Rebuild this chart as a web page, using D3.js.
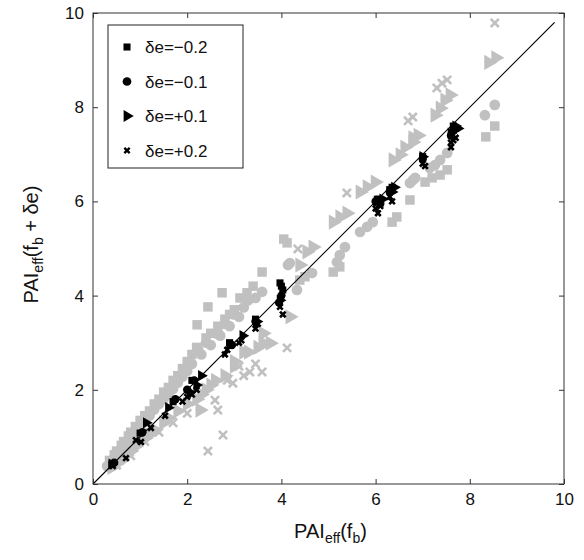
<!DOCTYPE html>
<html>
<head>
<meta charset="utf-8">
<script src="https://cdn.jsdelivr.net/npm/d3@7"></script>
<style>
  body { margin: 0; background: #fff; }
  text { font-family: "Liberation Sans", Arial, sans-serif; }
</style>
</head>
<body>
<svg width="584" height="560"></svg>
<script>
// data, [PAIeff(fb), PAIeff(fb + de)]
var xTicks = [0, 2, 4, 6, 8, 10];
var yTicks = [0, 2, 4, 6, 8, 10];
var legendLabels = ['\u03B4e=\u22120.2', '\u03B4e=\u22120.1', '\u03B4e=+0.1', '\u03B4e=+0.2'];
var lineEnd = 9.8;

// grey sets
var greySquares = [[0.35,0.5],[0.45,0.62],[0.5,0.7],[0.6,0.82],[0.65,0.9],[0.75,1.02],[0.8,1.1],[0.9,1.22],
  [1.0,1.35],[1.1,1.45],[1.2,1.55],[1.3,1.7],[1.4,1.8],[1.5,1.95],[1.6,2.05],[1.7,2.2],[1.8,2.3],[1.9,2.45],
  [2.0,2.6],[2.1,2.75],[2.2,2.9],[2.21,3.38],[2.44,3.76],[2.74,4.06],[2.4,3.1],[2.5,3.2],[2.65,3.35],
  [2.8,3.5],[2.9,3.6],[3.0,3.7],[3.12,3.95],[3.27,4.06],[3.4,4.2],[3.59,4.5],[4.12,5.12],[4.05,5.2],
  [4.39,4.33],[4.5,4.4],[5.1,4.5],[5.24,4.61],[6.35,5.56],[6.45,5.67],[6.73,6.03],[7.05,6.41],[7.2,6.5],
  [7.37,6.56],[7.52,6.67],[8.34,7.37],[8.53,7.6]];
var greyCircles = [[0.3,0.38],[0.4,0.5],[0.5,0.62],[0.6,0.75],[0.7,0.88],[0.8,1.0],[0.9,1.12],[1.0,1.25],
  [1.1,1.35],[1.2,1.45],[1.3,1.58],[1.4,1.7],[1.5,1.8],[1.6,1.9],[1.7,2.02],[1.8,2.15],[1.9,2.28],[2.0,2.4],
  [2.1,2.55],[2.23,2.85],[2.3,2.75],[2.4,3.0],[2.5,2.95],[2.6,3.2],[2.7,3.15],[2.8,3.4],[2.9,3.35],
  [3.0,3.6],[3.1,3.55],[3.3,3.9],[3.2,3.75],[3.45,3.95],[3.59,4.08],[4.14,4.65],[4.18,4.69],
  [4.33,4.12],[4.65,4.48],[5.18,4.71],[5.24,4.86],[5.35,5.03],[5.67,5.35],[5.82,5.46],[5.94,5.56],
  [6.73,6.39],[6.84,6.5],[6.79,6.45],[7.15,6.71],[7.26,6.77],[7.37,6.88],[7.52,7.03],[8.32,7.83],[8.53,8.05]];
var greyTriangles = [[0.4,0.35],[0.5,0.43],[0.6,0.5],[0.7,0.6],[0.8,0.7],[0.9,0.8],[1.0,0.9],[1.1,0.97],
  [1.2,1.05],[1.3,1.15],[1.5,1.3],[1.6,1.4],[1.8,1.55],[2.0,1.7],[2.2,1.8],[2.27,1.57],[2.3,1.9],
  [2.4,2.0],[2.5,2.1],[2.6,2.2],[2.8,2.3],[3.0,2.5],[3.0,2.6],[3.2,2.8],[3.3,2.8],[3.5,2.9],[3.61,2.99],
  [3.61,3.2],[3.76,2.99],[4.18,3.55],[4.39,4.65],[4.54,4.93],[4.67,5.03],[5.1,5.56],[5.24,5.67],[5.39,5.75],
  [5.67,6.2],[5.82,6.31],[5.99,6.41],[6.37,6.88],[6.52,6.99],[6.62,7.15],[6.79,7.26],[6.79,7.35],[6.9,7.4],
  [7.26,7.83],[7.37,7.98],[7.47,8.15],[7.58,8.26],[8.4,8.95],[8.55,9.05]];
var greyCrosses = [[0.5,0.4],[0.8,0.6],[1.1,0.9],[1.4,1.1],[1.7,1.3],[2.0,1.5],[2.44,0.7],[2.76,1.04],
  [2.65,1.57],[2.59,1.78],[2.97,2.14],[2.85,2.2],[3.1,2.5],[3.2,2.3],[3.33,2.38],[3.59,2.38],[3.45,2.55],
  [4.12,2.89],[4.35,4.99],[5.39,6.18],[6.69,7.71],[6.79,7.79],[7.3,8.41],[7.41,8.51],[7.52,8.58],[8.53,9.79]];

// black sets
var blackSquares = [[0.4,0.42],[1.0,1.08],[1.7,1.75],[2.1,2.2],[2.9,3.0],[3.45,3.5],[3.97,4.27],[4.0,4.2],
  [4.03,4.12],[6.05,6.05],[6.3,6.25],[6.35,6.3],[7.0,6.95],[7.65,7.6],[7.7,7.55]];
var blackCircles = [[0.45,0.45],[1.05,1.1],[1.75,1.8],[2.15,2.2],[2.0,2.0],[2.95,2.95],[3.45,3.45],
  [4.0,4.0],[3.95,3.85],[6.0,6.0],[6.1,5.95],[6.3,6.2],[7.0,6.9],[7.65,7.5],[7.6,7.4]];
var blackTriangles = [[0.4,0.42],[1.13,1.3],[1.6,1.62],[2.06,1.95],[2.2,2.1],[2.3,2.3],[2.9,2.95],
  [3.18,3.15],[3.48,3.45],[3.97,3.9],[6.03,6.0],[6.15,6.05],[6.35,6.2],[6.4,6.3],[7.0,6.95],[7.7,7.6],
  [7.6,7.45],[7.75,7.55]];
var blackCrosses = [[0.42,0.38],[0.7,0.55],[0.91,0.93],[1.02,0.89],[1.23,1.19],[1.53,1.45],[1.9,1.75],
  [2.0,1.85],[2.2,2.0],[2.1,1.9],[2.8,2.75],[2.85,2.85],[3.1,3.0],[3.15,3.05],[3.45,3.3],[3.5,3.4],
  [3.97,3.76],[4.03,3.6],[6.0,5.85],[6.05,5.75],[6.1,5.9],[6.3,6.1],[6.35,6.0],[7.0,6.8],[7.05,6.75],
  [7.6,7.25],[7.65,7.3],[7.6,7.15],[7.7,7.35]];

var margin = {left: 93, top: 13, right: 20, bottom: 76};
var svg = d3.select('svg');
var W = 584 - margin.left - margin.right;
var H = 560 - margin.top - margin.bottom;
var grey = '#c0c0c0';

var x = d3.scaleLinear().domain([0, 10]).range([0, W]);
var y = d3.scaleLinear().domain([0, 10]).range([H, 0]);

var g = svg.append('g').attr('transform', 'translate(' + margin.left + ',' + margin.top + ')');

var shapes = {
  square: function(s) { return d3.symbol().type(d3.symbolSquare).size(s)(); },
  circle: function(s) { return d3.symbol().type(d3.symbolCircle).size(s)(); },
  tri: function(s) { return d3.symbol().type(d3.symbolTriangle).size(s)(); },
  cross: function(s) { return d3.symbol().type(d3.symbolX).size(s)(); }
};

function drawSet(data, kind, size, color) {
  var isCross = kind == 'cross';
  g.append('g').selectAll('path')
    .data(data)
    .enter().append('path')
    .attr('d', shapes[kind](size))
    .attr('transform', function(d) {
      return 'translate(' + x(d[0]) + ',' + y(d[1]) + ')' + (kind == 'tri' ? ' rotate(90)' : '');
    })
    .attr('fill', isCross ? 'none' : color)
    .attr('stroke', isCross ? color : 'none')
    .attr('stroke-width', isCross ? 2.6 : 0);
}

drawSet(greySquares, 'square', 90, grey);
drawSet(greyCircles, 'circle', 90, grey);
drawSet(greyTriangles, 'tri', 100, grey);
drawSet(greyCrosses, 'cross', 45, grey);

// 1:1 line
g.append('line')
  .attr('x1', x(0)).attr('y1', y(0))
  .attr('x2', x(lineEnd)).attr('y2', y(lineEnd))
  .attr('stroke', '#000').attr('stroke-width', 1.1);

drawSet(blackSquares, 'square', 50, '#000');
drawSet(blackCircles, 'circle', 55, '#000');
drawSet(blackTriangles, 'tri', 55, '#000');
drawSet(blackCrosses, 'cross', 22, '#000');

// frame + ticks (inward, all four sides)
g.append('rect').attr('width', W).attr('height', H)
  .attr('fill', 'none').attr('stroke', '#333').attr('stroke-width', 1);

var xAxis = g.append('g').attr('transform', 'translate(0,' + H + ')')
  .call(d3.axisBottom(x).tickValues(xTicks).tickSizeInner(-5).tickSizeOuter(0).tickPadding(9));
var yAxis = g.append('g')
  .call(d3.axisLeft(y).tickValues(yTicks).tickSizeInner(-5).tickSizeOuter(0).tickPadding(9));
g.append('g').call(d3.axisTop(x).tickValues(xTicks).tickSizeInner(-5).tickSizeOuter(0).tickFormat(''));
g.append('g').attr('transform', 'translate(' + W + ',0)')
  .call(d3.axisRight(y).tickValues(yTicks).tickSizeInner(-5).tickSizeOuter(0).tickFormat(''));

g.selectAll('.domain').remove();
g.selectAll('.tick line').attr('stroke', '#333');
xAxis.selectAll('text').attr('font-size', 17).attr('fill', '#111')
  .attr('font-family', '"Liberation Sans", Arial, sans-serif');
yAxis.selectAll('text').attr('font-size', 17).attr('fill', '#111')
  .attr('font-family', '"Liberation Sans", Arial, sans-serif');

// axis labels
var xl = svg.append('text').attr('x', margin.left + W / 2 + 2).attr('y', 538)
  .attr('text-anchor', 'middle').attr('font-size', 20).attr('fill', '#111');
xl.append('tspan').text('PAI');
xl.append('tspan').text('eff').attr('font-size', 14).attr('dy', 5);
xl.append('tspan').text('(f').attr('dy', -5);
xl.append('tspan').text('b').attr('font-size', 14).attr('dy', 5);
xl.append('tspan').text(')').attr('dy', -5);

var yl = svg.append('text')
  .attr('transform', 'translate(38,' + (margin.top + H / 2 - 4) + ') rotate(-90)')
  .attr('text-anchor', 'middle').attr('font-size', 20).attr('fill', '#111');
yl.append('tspan').text('PAI');
yl.append('tspan').text('eff').attr('font-size', 14).attr('dy', 5);
yl.append('tspan').text('(f').attr('dy', -5);
yl.append('tspan').text('b').attr('font-size', 14).attr('dy', 5);
yl.append('tspan').text(' + \u03B4e)').attr('dy', -5);

// legend
var leg = svg.append('g').attr('transform', 'translate(108,25)');
leg.append('rect').attr('width', 135).attr('height', 143)
  .attr('fill', '#fff').attr('stroke', '#222').attr('stroke-width', 1);
var legKinds = [['square', 50], ['circle', 60], ['tri', 60], ['cross', 20]];
legendLabels.forEach(function(lab, i) {
  var cy = 22 + i * 34.5;
  var k = legKinds[i][0];
  leg.append('path')
    .attr('d', shapes[k](legKinds[i][1]))
    .attr('transform', 'translate(19,' + cy + ')' + (k == 'tri' ? ' rotate(90)' : ''))
    .attr('fill', k == 'cross' ? 'none' : '#000')
    .attr('stroke', k == 'cross' ? '#000' : 'none')
    .attr('stroke-width', k == 'cross' ? 2.4 : 0);
  leg.append('text').attr('x', 37).attr('y', cy + 6)
    .attr('font-size', 17).attr('fill', '#111').text(lab);
});
</script>
</body>
</html>
